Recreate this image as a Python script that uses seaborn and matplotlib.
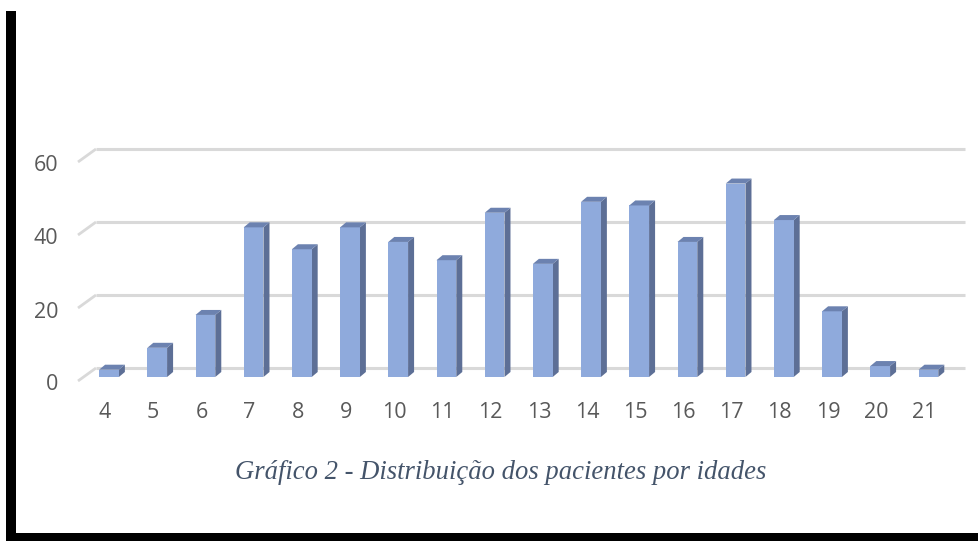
import matplotlib
matplotlib.use("Agg")
import matplotlib.pyplot as plt
import matplotlib.transforms as mtransforms
from matplotlib.patches import Polygon, Rectangle
import seaborn as sns
import pandas as pd

# ---- data ----
ages = ["4", "5", "6", "7", "8", "9", "10", "11", "12", "13", "14", "15",
        "16", "17", "18", "19", "20", "21"]
patients = [2, 8, 17, 41, 35, 41, 37, 32, 45, 31, 48, 47, 37, 53, 43, 18, 3, 2]
y_ticks = [0, 20, 40, 60]
caption = "Gráfico 2 - Distribuição dos pacientes por idades"

# ---- style ----
W, H, DPI = 979, 541, 100
FRONT = "#8FAADC"
SIDE = "#5D6F96"
TOP = "#6C82B0"
GRID = "#D9D9D9"
TXT = "#595959"

sns.set_theme(style="white")
plt.rcParams["font.family"] = ["Open Sans", "DejaVu Sans"]

fig = plt.figure(figsize=(W / DPI, H / DPI), dpi=DPI)
fig.patch.set_facecolor("white")

# axes placement in pixels
ax_left, ax_right, ax_top, ax_bot = 79, 965, 140, 390
ax = fig.add_axes([ax_left / W, 1 - ax_bot / H, (ax_right - ax_left) / W, (ax_bot - ax_top) / H])
ax.set_facecolor("none")

df = pd.DataFrame({"age": ages, "n": patients})
sns.barplot(data=df, x="age", y="n", color=FRONT, saturation=1, width=0.41,
            linewidth=0, ax=ax, zorder=3)

px_x = 48.2   # pixels per category
px_y = 3.65   # pixels per unit
zero_px = 377
x_first = 109
ax.set_xlim(-(x_first - ax_left) / px_x, (ax_right - x_first) / px_x)
ax.set_ylim(-(ax_bot - zero_px) / px_y, (zero_px - ax_top) / px_y)

# back-plane gridlines with 3D diagonal
xl = ax.get_xlim()[0]
bx = 17 / px_x
by = 9 / px_y
fy = 4 / px_y
for v in y_ticks:
    ax.plot([xl - 1 / px_x, xl + bx], [v - fy, v + by], color=GRID, lw=2,
            zorder=1, clip_on=False, solid_capstyle="butt")
    ax.plot([xl + bx, ax.get_xlim()[1]], [v + by, v + by], color=GRID, lw=2.2,
            zorder=1, clip_on=False, solid_capstyle="butt")

# 3D faces for bars
dx = 6 / px_x
dy = 5 / px_y
for p in ax.patches[:]:
    x0 = p.get_x()
    x1 = x0 + p.get_width()
    h = p.get_height()
    side = Polygon([(x1, 0), (x1 + dx, dy), (x1 + dx, h + dy), (x1, h)],
                   closed=True, facecolor=SIDE, edgecolor="none", zorder=2.9)
    top = Polygon([(x0, h), (x0 + dx, h + dy), (x1 + dx, h + dy), (x1, h)],
                  closed=True, facecolor=TOP, edgecolor="none", zorder=3.1)
    ax.add_patch(side)
    ax.add_patch(top)

for s in ax.spines.values():
    s.set_visible(False)
ax.set_xlabel("")
ax.set_ylabel("")
ax.set_yticks(y_ticks)
ax.set_yticklabels([str(v) for v in y_ticks])
ax.tick_params(axis="both", length=0, labelsize=15.5, labelcolor=TXT)
ax.tick_params(axis="y", pad=15)
ax.tick_params(axis="x", pad=9)

off_y = mtransforms.ScaledTranslation(0, -5.5 / DPI, fig.dpi_scale_trans)
for lab in ax.get_yticklabels():
    lab.set_transform(lab.get_transform() + off_y)
off_x = mtransforms.ScaledTranslation(-4 / DPI, 0, fig.dpi_scale_trans)
for lab in ax.get_xticklabels():
    lab.set_transform(lab.get_transform() + off_x)

# caption
fig.text(501 / W, 1 - 479 / H, caption, ha="center", va="baseline",
         fontsize=19.2, style="italic", color="#44546A",
         family=["Liberation Serif", "DejaVu Serif"])

# frame (left and bottom thick border)
fig.add_artist(Rectangle((6 / W, 0), 10 / W, 1 - 11 / H, transform=fig.transFigure,
                         facecolor="black", edgecolor="none"))
fig.add_artist(Rectangle((6 / W, 0), 1, 8 / H, transform=fig.transFigure,
                         facecolor="black", edgecolor="none"))

fig.savefig("out.png", dpi=DPI)
